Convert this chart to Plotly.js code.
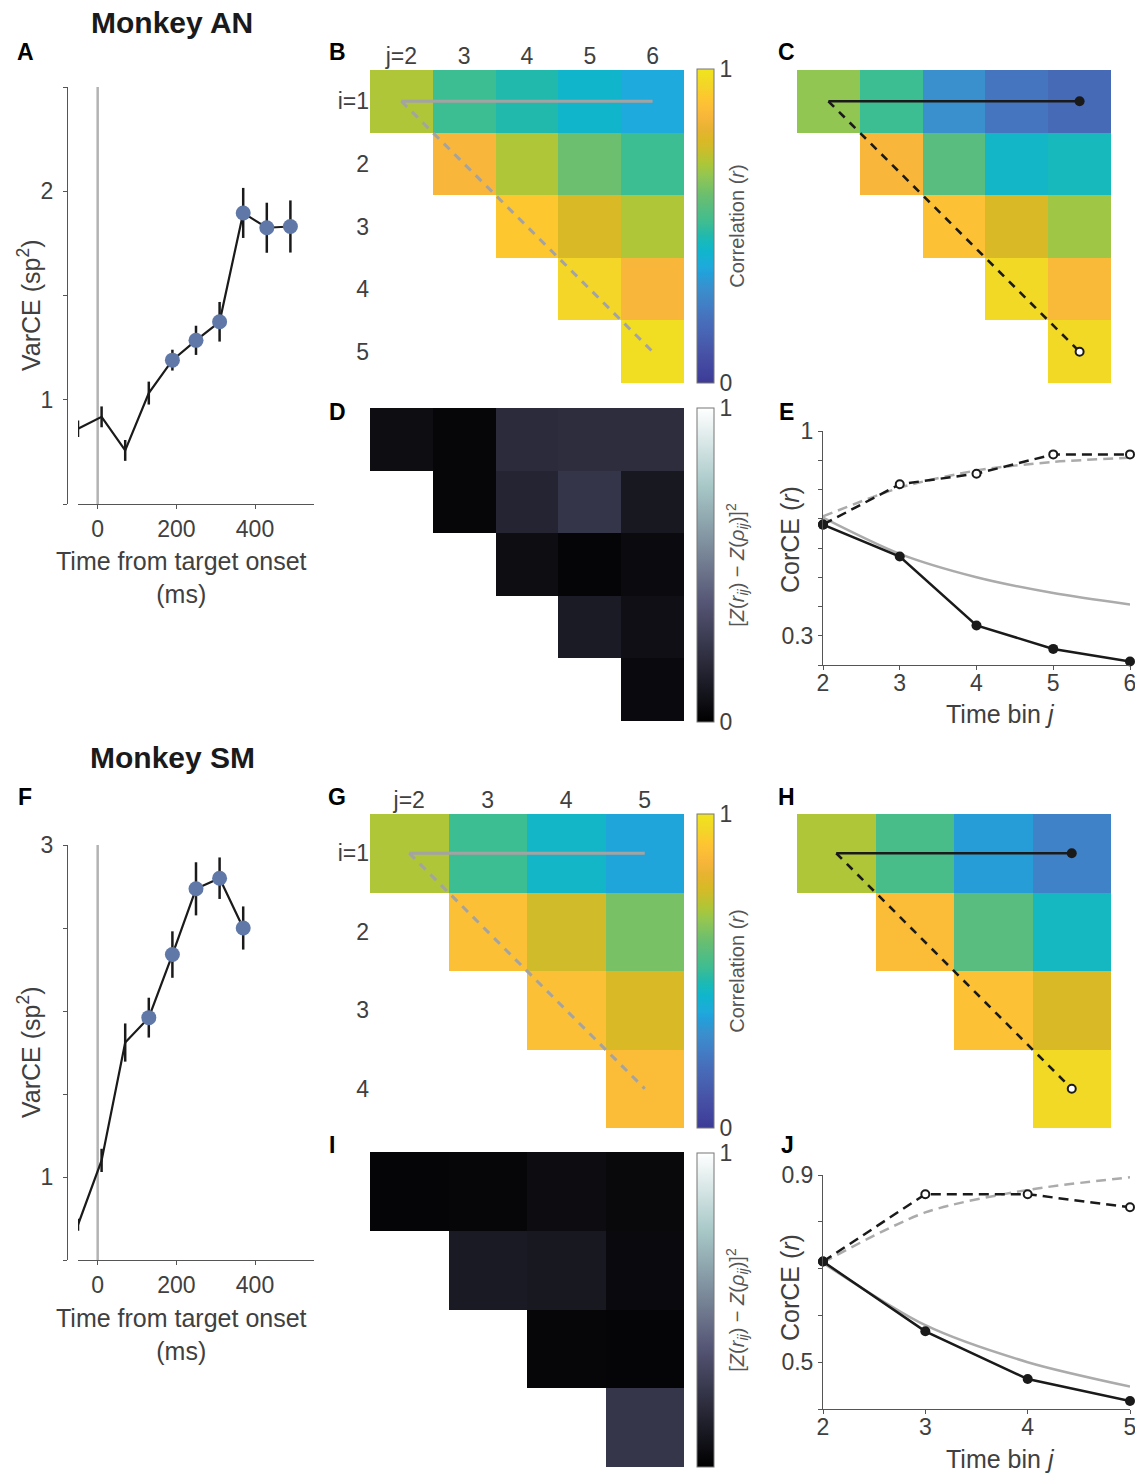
<!DOCTYPE html>
<html><head><meta charset="utf-8">
<script src="https://cdn.plot.ly/plotly-3.0.1.min.js"></script>
<style>body{margin:0;padding:0;background:#fff}#chart{width:1135px;height:1474px}</style>
</head><body><div id="chart"></div>
<script>
const W = 1135, H = 1474;

// ---------- Panel A / F : VarCE time courses ----------
const timeAN = [-50, 10, 70, 130, 190, 250, 310, 370, 430, 490];
const varceAN = [0.861, 0.918, 0.757, 1.032, 1.19, 1.285, 1.374, 1.896, 1.825, 1.831];
const varceErrAN = [0.04, 0.05, 0.05, 0.055, 0.05, 0.07, 0.095, 0.12, 0.12, 0.125];
const highlightAN = [0, 0, 0, 0, 1, 1, 1, 1, 1, 1];

const timeSM = [-50, 10, 70, 130, 190, 250, 310, 370];
const varceSM = [0.712, 1.1, 1.81, 1.96, 2.34, 2.736, 2.80, 2.50];
const varceErrSM = [0.036, 0.07, 0.115, 0.12, 0.14, 0.16, 0.125, 0.13];
const highlightSM = [0, 0, 0, 1, 1, 1, 1, 1];

// ---------- Heatmap bins / labels ----------
const binsJ_AN = [2, 3, 4, 5, 6];
const binsI_AN = [1, 2, 3, 4, 5];
const colLabelsAN = ['j=2', '3', '4', '5', '6'];
const rowLabelsAN = ['i=1', '2', '3', '4', '5'];
const binsJ_SM = [2, 3, 4, 5];
const binsI_SM = [1, 2, 3, 4];
const colLabelsSM = ['j=2', '3', '4', '5'];
const rowLabelsSM = ['i=1', '2', '3', '4'];

// B: model correlation (AN)
const corrModelAN = [
  [0.70, 0.51, 0.47, 0.42, 0.37],
  [null, 0.85, 0.70, 0.60, 0.51],
  [null, null, 0.91, 0.77, 0.70],
  [null, null, null, 0.95, 0.85],
  [null, null, null, null, 0.98]
];
// C: data correlation (AN)
const corrDataAN = [
  [0.66, 0.51, 0.30, 0.22, 0.18],
  [null, 0.85, 0.56, 0.43, 0.45],
  [null, null, 0.89, 0.77, 0.68],
  [null, null, null, 0.96, 0.86],
  [null, null, null, null, 0.96]
];
// D: squared Z difference (AN)
const zdiffAN = [
  [0.058, 0.027, 0.192, 0.201, 0.201],
  [null, 0.027, 0.161, 0.237, 0.107],
  [null, null, 0.058, 0.022, 0.049],
  [null, null, null, 0.12, 0.067],
  [null, null, null, null, 0.045]
];
// G: model correlation (SM)
const corrModelSM = [
  [0.70, 0.51, 0.43, 0.36],
  [null, 0.885, 0.75, 0.62],
  [null, null, 0.885, 0.77],
  [null, null, null, 0.87]
];
// H: data correlation (SM)
const corrDataSM = [
  [0.70, 0.53, 0.34, 0.26],
  [null, 0.87, 0.56, 0.44],
  [null, null, 0.89, 0.77],
  [null, null, null, 0.96]
];
// I: squared Z difference (SM)
const zdiffSM = [
  [0.022, 0.027, 0.054, 0.04],
  [null, 0.116, 0.107, 0.045],
  [null, null, 0.027, 0.022],
  [null, null, null, 0.241]
];

// ---------- E / J : CorCE ----------
const binsE = [2, 3, 4, 5, 6];
const dataAcrossAN = [0.68, 0.571, 0.335, 0.255, 0.212];
const dataWithinAN = [0.68, 0.818, 0.854, 0.92, 0.92];
const modelAcrossAN = [0.704, 0.58, 0.50, 0.446, 0.407];
const modelWithinAN = [0.708, 0.806, 0.865, 0.894, 0.909];

const binsJ = [2, 3, 4, 5];
const dataAcrossSM = [0.715, 0.566, 0.464, 0.417];
const dataWithinSM = [0.715, 0.859, 0.859, 0.831];
const modelAcrossSM = [0.712, 0.579, 0.50, 0.448];
const modelWithinSM = [0.713, 0.82, 0.868, 0.895];

// ---------- colour scales ----------
const parula = [
  [0.00, '#3c3b96'], [0.05, '#43479f'], [0.10, '#4754a7'], [0.15, '#4862b2'],
  [0.20, '#476fbb'], [0.25, '#417fc6'], [0.30, '#3a8fcd'], [0.35, '#22a0da'],
  [0.37, '#1eaadc'], [0.42, '#10b5cc'], [0.45, '#18b9bc'], [0.47, '#22b9ad'],
  [0.51, '#3dbd92'], [0.56, '#58bd7e'], [0.60, '#6bbf6e'], [0.66, '#92c653'],
  [0.70, '#aec637'], [0.75, '#d0bc2a'], [0.77, '#d9b926'], [0.81, '#e8b332'],
  [0.85, '#f8b63a'], [0.89, '#fdc135'], [0.91, '#fdc72f'], [0.95, '#f3d627'],
  [1.00, '#f0e41e']
];
const bone = [
  [0, '#000000'], [0.125, '#1c1c27'], [0.25, '#38384d'], [0.375, '#545474'],
  [0.5, '#707a8f'], [0.625, '#8ba1ab'], [0.75, '#a7c7c7'], [0.875, '#d3e3e3'], [1, '#ffffff']
];

const FONT = 'Liberation Sans, Arial, Helvetica, sans-serif';
const TXT = '#404040';
const AX = '#555555';
const TICK = 23;

// colour bars: centre y (px) of each bar; 314 px long, 17 px wide, left edge at x=697
const CB_X = 697, CB_W = 17, CB_LEN = 314;
function cbar(cy, title, tsize) {
  return {
    x: CB_X / W, xanchor: 'left', y: 1 - cy / H, yanchor: 'middle',
    len: CB_LEN, lenmode: 'pixels', thickness: CB_W, thicknessmode: 'pixels',
    xpad: 0, ypad: 0, outlinewidth: 1, outlinecolor: '#777',
    tickvals: [0, 1], ticktext: ['0', '1'], ticks: '',
    tickfont: {family: FONT, size: TICK, color: TXT},
    title: {text: title, side: 'right', font: {family: FONT, size: tsize, color: '#555'}}
  };
}
const corrTitle = 'Correlation (<i>r</i>)';
const zTitle = '[<i>Z</i>(<i>r</i><sub><i>ij</i></sub>) − <i>Z</i>(<i>ρ</i><sub><i>ij</i></sub>)]<sup>2</sup>';

const traces = [];

// VarCE panels
function varcePanel(t, v, e, hl, xa, ya) {
  traces.push({x: t, y: v, xaxis: xa, yaxis: ya, mode: 'lines', type: 'scatter',
    line: {color: '#1a1a1a', width: 2.2}, cliponaxis: false,
    error_y: {type: 'data', array: e, visible: true, color: '#1a1a1a', thickness: 2.5, width: 0}});
  const ht = [], hv = [];
  for (let k = 0; k < t.length; k++) if (hl[k]) { ht.push(t[k]); hv.push(v[k]); }
  traces.push({x: ht, y: hv, xaxis: xa, yaxis: ya, mode: 'markers', type: 'scatter',
    marker: {size: 15, color: '#5f78a8'}, cliponaxis: false});
}
varcePanel(timeAN, varceAN, varceErrAN, highlightAN, 'x', 'y');
varcePanel(timeSM, varceSM, varceErrSM, highlightSM, 'x6', 'y6');

// heatmaps
function heat(xs, ys, z, cs, xa, ya, cb) {
  const t = {type: 'heatmap', x: xs, y: ys, z: z, xaxis: xa, yaxis: ya, colorscale: cs,
    zmin: 0, zmax: 1, showscale: !!cb, hoverinfo: 'skip'};
  if (cb) t.colorbar = cb;
  traces.push(t);
}
const CB_CENTERS = [226, 565, 971, 1310];
heat(binsJ_AN, binsI_AN, corrModelAN, parula, 'x2', 'y2', cbar(CB_CENTERS[0], corrTitle, 20));
heat(binsJ_AN, binsI_AN, corrDataAN, parula, 'x3', 'y3', null);
heat(binsJ_AN, binsI_AN, zdiffAN, bone, 'x4', 'y4', cbar(CB_CENTERS[1], zTitle, 20));
heat(binsJ_SM, binsI_SM, corrModelSM, parula, 'x7', 'y7', cbar(CB_CENTERS[2], corrTitle, 20));
heat(binsJ_SM, binsI_SM, corrDataSM, parula, 'x8', 'y8', null);
heat(binsJ_SM, binsI_SM, zdiffSM, bone, 'x9', 'y9', cbar(CB_CENTERS[3], zTitle, 20));

// overlay paths on heatmaps
function paths(js, is, xa, ya, color, w, withMarkers) {
  const j0 = js[0], j1 = js[js.length - 1], i0 = is[0], i1 = is[is.length - 1];
  traces.push({x: [j0, j1], y: [i0, i0], xaxis: xa, yaxis: ya, mode: 'lines', type: 'scatter',
    line: {color: color, width: w}, hoverinfo: 'skip'});
  traces.push({x: [j0, j1], y: [i0, i1], xaxis: xa, yaxis: ya, mode: 'lines', type: 'scatter',
    line: {color: color, width: w, dash: '8px,7px'}, hoverinfo: 'skip'});
  if (withMarkers) {
    traces.push({x: [j1], y: [i0], xaxis: xa, yaxis: ya, mode: 'markers', type: 'scatter',
      marker: {size: 10, color: color}, hoverinfo: 'skip'});
    traces.push({x: [j1], y: [i1], xaxis: xa, yaxis: ya, mode: 'markers', type: 'scatter',
      marker: {size: 8, color: '#ffffff', line: {color: color, width: 2}}, hoverinfo: 'skip'});
  }
}
paths(binsJ_AN, binsI_AN, 'x2', 'y2', '#a3a3a3', 3, false);
paths(binsJ_AN, binsI_AN, 'x3', 'y3', '#1a1a1a', 2.6, true);
paths(binsJ_SM, binsI_SM, 'x7', 'y7', '#a3a3a3', 3, false);
paths(binsJ_SM, binsI_SM, 'x8', 'y8', '#1a1a1a', 2.6, true);

// CorCE panels
function corce(bins, mW, mA, dW, dA, xa, ya) {
  traces.push({x: bins, y: mW, xaxis: xa, yaxis: ya, mode: 'lines', type: 'scatter',
    line: {color: '#ababab', width: 2.5, dash: '10px,6px', shape: 'spline', smoothing: 0.8}, cliponaxis: false});
  traces.push({x: bins, y: mA, xaxis: xa, yaxis: ya, mode: 'lines', type: 'scatter',
    line: {color: '#ababab', width: 2.5, shape: 'spline', smoothing: 0.8}, cliponaxis: false});
  traces.push({x: bins, y: dW, xaxis: xa, yaxis: ya, mode: 'lines+markers', type: 'scatter',
    line: {color: '#1a1a1a', width: 2.5, dash: '10px,6px'},
    marker: {size: 8, color: '#ffffff', line: {color: '#1a1a1a', width: 2}}, cliponaxis: false});
  traces.push({x: bins, y: dA, xaxis: xa, yaxis: ya, mode: 'lines+markers', type: 'scatter',
    line: {color: '#1a1a1a', width: 2.5},
    marker: {size: 10, color: '#1a1a1a'}, cliponaxis: false});
}
corce(binsE, modelWithinAN, modelAcrossAN, dataWithinAN, dataAcrossAN, 'x5', 'y5');
corce(binsJ, modelWithinSM, modelAcrossSM, dataWithinSM, dataAcrossSM, 'x10', 'y10');

// ---------- layout ----------
const dx = (a, b) => [a / W, b / W];
const dy = (top, bot) => [1 - bot / H, 1 - top / H];
const tf = {family: FONT, size: TICK, color: TXT};

function lineAxis(extra) {
  return Object.assign({showline: true, linecolor: AX, linewidth: 1, ticks: 'outside', ticklen: 4,
    tickwidth: 1, tickcolor: AX, showgrid: false, zeroline: false, tickfont: tf,
    ticklabeloverflow: 'allow', fixedrange: true}, extra);
}
function minorTicks(t0, d) {
  return {tick0: t0, dtick: d, ticks: 'outside', ticklen: 4, tickwidth: 1, tickcolor: AX, showgrid: false};
}
function heatX(dom, range, vals, text, show, anchor) {
  return {domain: dom, anchor: anchor, range: range, side: 'top', tickvals: vals, ticktext: text,
    showticklabels: show, ticks: '', showline: false, showgrid: false, zeroline: false, tickfont: tf};
}
function heatY(dom, range, vals, text, show, anchor) {
  return {domain: dom, anchor: anchor, range: range, tickvals: vals, ticktext: text,
    showticklabels: show, ticks: '', showline: false, showgrid: false, zeroline: false, tickfont: tf};
}

const layout = {
  width: W, height: H, margin: {l: 0, r: 0, t: 0, b: 0, pad: 0},
  paper_bgcolor: '#ffffff', plot_bgcolor: 'rgba(0,0,0,0)', showlegend: false,
  font: {family: FONT, color: TXT},
  // A
  xaxis: lineAxis({domain: dx(78, 314), anchor: 'y', range: [-50, 550], tickvals: [0, 200, 400]}),
  yaxis: lineAxis({domain: dy(87, 504), anchor: 'free', position: 67 / W, range: [0.5, 2.5],
    tickvals: [1, 2], minor: minorTicks(0.5, 0.5), ticklabelstandoff: 5}),
  // B
  xaxis2: heatX(dx(370, 684), [1.5, 6.5], binsJ_AN, colLabelsAN, true, 'y2'),
  yaxis2: heatY(dy(70, 383), [5.5, 0.5], binsI_AN, rowLabelsAN, true, 'x2'),
  // C
  xaxis3: heatX(dx(797, 1111), [1.5, 6.5], binsJ_AN, colLabelsAN, false, 'y3'),
  yaxis3: heatY(dy(70, 383), [5.5, 0.5], binsI_AN, rowLabelsAN, false, 'x3'),
  // D
  xaxis4: heatX(dx(370, 684), [1.5, 6.5], binsJ_AN, colLabelsAN, false, 'y4'),
  yaxis4: heatY(dy(408, 721), [5.5, 0.5], binsI_AN, rowLabelsAN, false, 'x4'),
  // E
  xaxis5: lineAxis({domain: dx(823, 1130), anchor: 'y5', range: [2, 6], tickvals: binsE,
    ticklabelstandoff: -7}),
  yaxis5: lineAxis({domain: dy(431, 665), anchor: 'x5', range: [0.2, 1],
    tickvals: [0.3, 1], minor: minorTicks(0.2, 0.1)}),
  // F
  xaxis6: lineAxis({domain: dx(78, 314), anchor: 'y6', range: [-50, 550], tickvals: [0, 200, 400]}),
  yaxis6: lineAxis({domain: dy(845, 1260), anchor: 'free', position: 67 / W, range: [0.5, 3],
    tickvals: [1, 3], minor: minorTicks(0.5, 0.5), ticklabelstandoff: 5}),
  // G
  xaxis7: heatX(dx(370, 684), [1.5, 5.5], binsJ_SM, colLabelsSM, true, 'y7'),
  yaxis7: heatY(dy(814, 1128), [4.5, 0.5], binsI_SM, rowLabelsSM, true, 'x7'),
  // H
  xaxis8: heatX(dx(797, 1111), [1.5, 5.5], binsJ_SM, colLabelsSM, false, 'y8'),
  yaxis8: heatY(dy(814, 1128), [4.5, 0.5], binsI_SM, rowLabelsSM, false, 'x8'),
  // I
  xaxis9: heatX(dx(370, 684), [1.5, 5.5], binsJ_SM, colLabelsSM, false, 'y9'),
  yaxis9: heatY(dy(1152, 1467), [4.5, 0.5], binsI_SM, rowLabelsSM, false, 'x9'),
  // J
  xaxis10: lineAxis({domain: dx(823, 1130), anchor: 'y10', range: [2, 5], tickvals: binsJ,
    ticklabelstandoff: -7}),
  yaxis10: lineAxis({domain: dy(1175, 1409), anchor: 'x10', range: [0.4, 0.9],
    tickvals: [0.5, 0.9], minor: minorTicks(0.4, 0.1)}),
  shapes: [
    {type: 'line', xref: 'x', yref: 'y domain', x0: 0, x1: 0, y0: 0, y1: 1,
     line: {color: '#b3b3b3', width: 2.5}, layer: 'below'},
    {type: 'line', xref: 'x6', yref: 'y6 domain', x0: 0, x1: 0, y0: 0, y1: 1,
     line: {color: '#b3b3b3', width: 2.5}, layer: 'below'}
  ],
  annotations: []
};

// inner tick marks on colour bars (every tenth of the bar)
CB_CENTERS.forEach(cy => {
  const bottom = cy + CB_LEN / 2;
  for (let k = 1; k < 10; k++) {
    const py = bottom - k * CB_LEN / 10;
    layout.shapes.push({type: 'line', xref: 'paper', yref: 'paper',
      x0: (CB_X + CB_W - 4) / W, x1: (CB_X + CB_W - 0.5) / W, y0: 1 - py / H, y1: 1 - py / H,
      line: {color: '#555', width: 1}});
  }
});

function ann(text, px, py, size, opts) {
  layout.annotations.push(Object.assign({
    text: text, x: px / W, y: 1 - py / H, xref: 'paper', yref: 'paper',
    xanchor: 'center', yanchor: 'middle', showarrow: false,
    font: {family: FONT, size: size, color: TXT}
  }, opts || {}));
}
// titles
ann('<b>Monkey AN</b>', 172, 22, 30, {font: {family: FONT, size: 30, color: '#1a1a1a'}});
ann('<b>Monkey SM</b>', 172, 757, 30, {font: {family: FONT, size: 30, color: '#1a1a1a'}});
// panel letters
const letterFont = {family: FONT, size: 23, color: '#000000'};
[['A', 25, 52], ['B', 337, 52], ['C', 786, 52], ['D', 337, 412], ['E', 786, 412],
 ['F', 25, 797], ['G', 337, 797], ['H', 786, 797], ['I', 332, 1145], ['J', 787, 1145]]
  .forEach(l => ann('<b>' + l[0] + '</b>', l[1], l[2], 23, {font: letterFont}));
// axis titles
ann('VarCE (sp<sup>2</sup>)', 29, 305, 25, {textangle: -90});
ann('Time from target onset<br>(ms)', 181, 577, 25);
ann('VarCE (sp<sup>2</sup>)', 29, 1052, 25, {textangle: -90});
ann('Time from target onset<br>(ms)', 181, 1334, 25);
ann('CorCE (<i>r</i>)', 790, 540, 25, {textangle: -90});
ann('Time bin <i>j</i>', 1000, 714, 25);
ann('CorCE (<i>r</i>)', 790, 1288, 25, {textangle: -90});
ann('Time bin <i>j</i>', 1000, 1459, 25);

Plotly.newPlot('chart', traces, layout, {displayModeBar: false, staticPlot: true});
</script>
</body></html>
